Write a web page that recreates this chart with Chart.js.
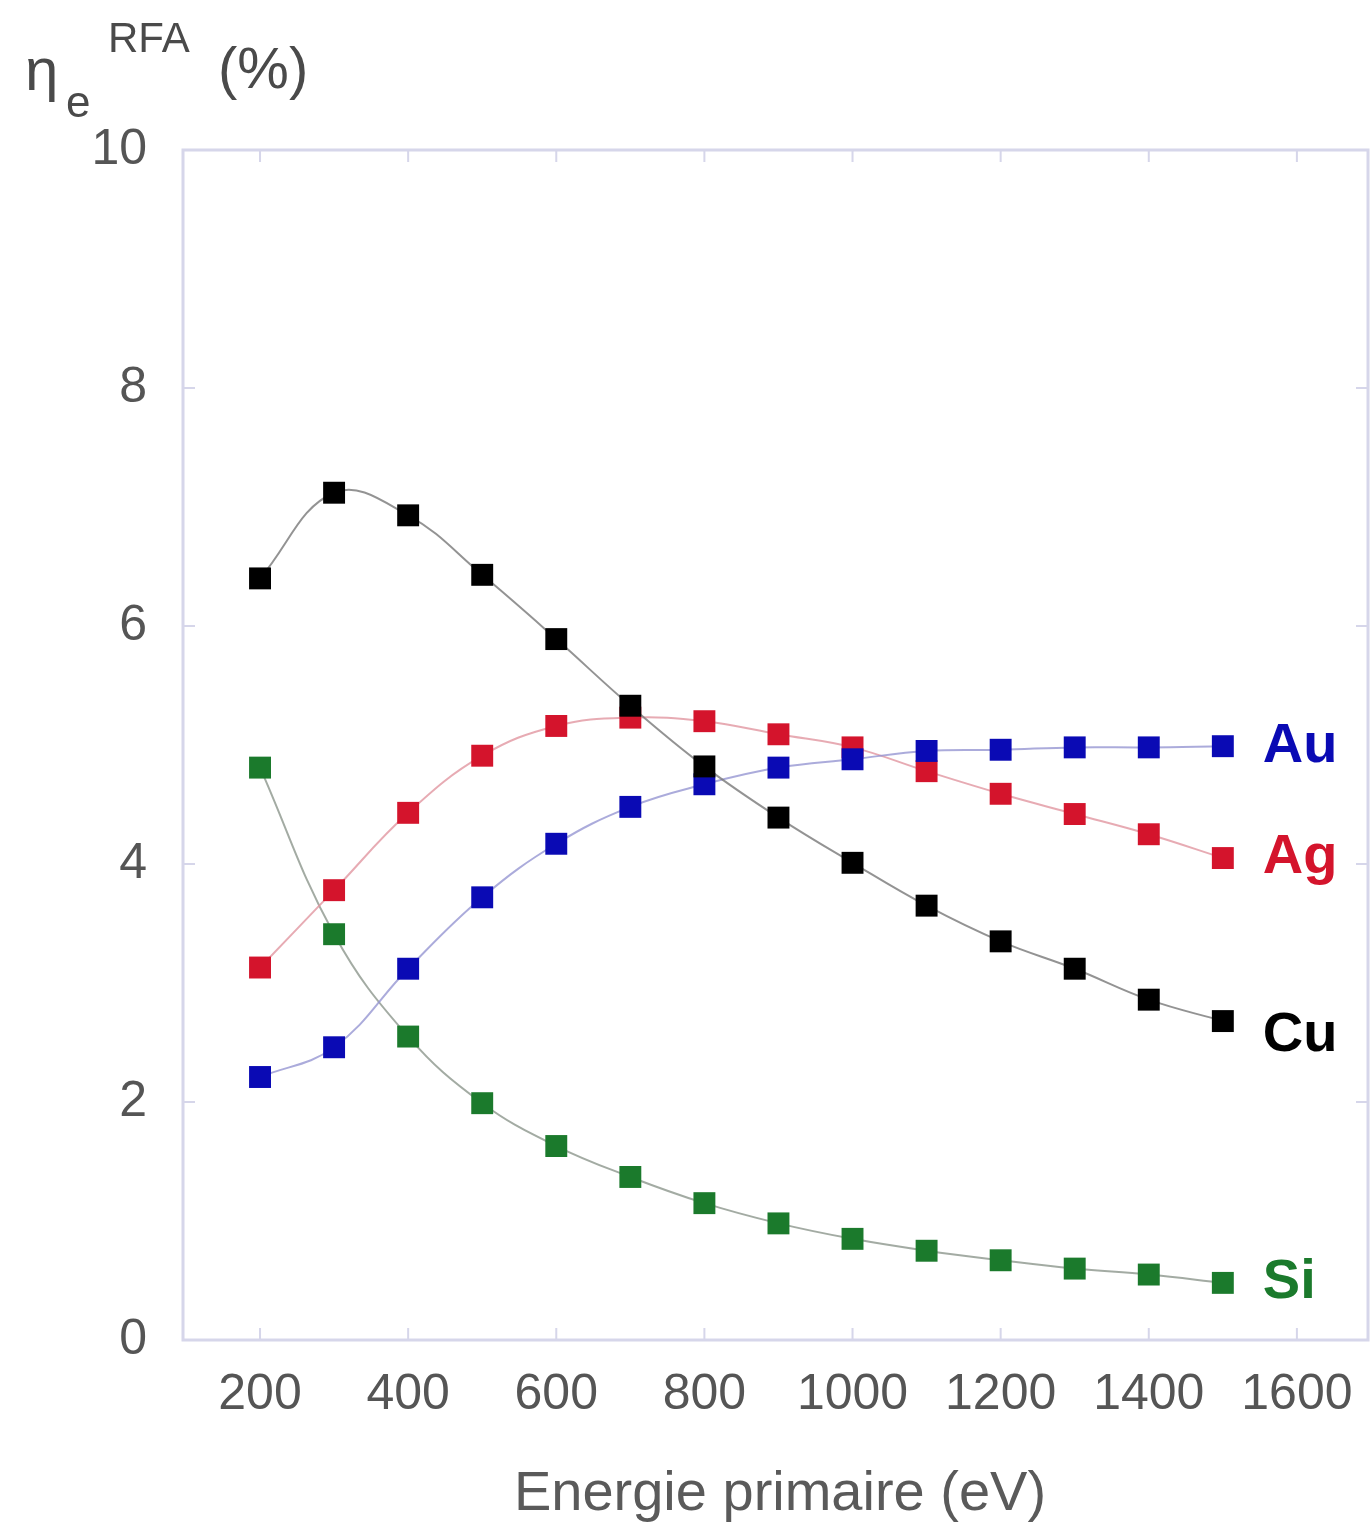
<!DOCTYPE html>
<html lang="fr">
<head>
    <meta charset="UTF-8">
    <title>Rendement RFA</title>
    <script src="https://cdn.jsdelivr.net/npm/chart.js@4.4.0/dist/chart.umd.min.js"></script>
    <style>
        body {
            margin: 0;
            background: #ffffff;
            overflow: hidden;
        }
        .chart-box {
            position: relative;
            width: 1371px;
            height: 1526px;
        }
    </style>
</head>
<body>
    <div class="chart-box">
        <canvas id="rfaChart"></canvas>
    </div>

    <script>
        // energie primaire (eV)
        const energies = [200, 300, 400, 500, 600, 700, 800, 900, 1000, 1100, 1200, 1300, 1400, 1500];

        // eta_e RFA (%)
        const cuValues = [6.40, 7.12, 6.93, 6.43, 5.89, 5.33, 4.82, 4.39, 4.01, 3.65, 3.35, 3.12, 2.86, 2.68];
        const agValues = [3.13, 3.78, 4.43, 4.91, 5.16, 5.23, 5.20, 5.09, 4.98, 4.78, 4.59, 4.42, 4.25, 4.05];
        const auValues = [2.21, 2.46, 3.12, 3.72, 4.17, 4.48, 4.67, 4.81, 4.88, 4.95, 4.96, 4.98, 4.98, 4.99];
        const siValues = [4.81, 3.41, 2.55, 1.99, 1.63, 1.37, 1.15, 0.98, 0.85, 0.75, 0.67, 0.60, 0.55, 0.48];

        const xTickValues = [200, 400, 600, 800, 1000, 1200, 1400, 1600];
        const yTickValues = [0, 2, 4, 6, 8, 10];

        const fontFamily = "'Liberation Sans', Arial, sans-serif";

        function toPoints(values) {
            return energies.map((e, i) => ({ x: e, y: values[i] }));
        }

        function series(label, values, color, lineColor) {
            return {
                label: label,
                data: toPoints(values),
                showLine: true,
                borderColor: lineColor,
                borderWidth: 2,
                tension: 0.4,
                pointStyle: 'rect',
                pointRadius: 15.5,
                pointBackgroundColor: color,
                pointBorderColor: color,
                pointBorderWidth: 0,
                labelColor: color
            };
        }

        // cadre, graduations, titres et noms des courbes
        const decorPlugin = {
            id: 'decor',
            beforeDatasetsDraw(chart) {
                const ctx = chart.ctx;
                const area = chart.chartArea;
                const xs = chart.scales.x;
                const ys = chart.scales.y;
                ctx.save();
                ctx.strokeStyle = '#d6d6ea';
                ctx.lineWidth = 3;
                ctx.strokeRect(area.left, area.top, area.right - area.left, area.bottom - area.top);
                ctx.lineWidth = 2;
                ctx.beginPath();
                xTickValues.forEach(v => {
                    const px = xs.getPixelForValue(v);
                    ctx.moveTo(px, area.bottom);
                    ctx.lineTo(px, area.bottom - 12);
                    ctx.moveTo(px, area.top);
                    ctx.lineTo(px, area.top + 12);
                });
                yTickValues.forEach(v => {
                    const py = ys.getPixelForValue(v);
                    ctx.moveTo(area.left, py);
                    ctx.lineTo(area.left + 12, py);
                    ctx.moveTo(area.right, py);
                    ctx.lineTo(area.right - 12, py);
                });
                ctx.stroke();
                ctx.restore();
            },
            afterDatasetsDraw(chart) {
                const ctx = chart.ctx;
                ctx.save();

                // noms des courbes a droite du dernier point
                ctx.font = 'bold 56px ' + fontFamily;
                ctx.textBaseline = 'middle';
                ctx.textAlign = 'left';
                chart.data.datasets.forEach((ds, i) => {
                    const pts = chart.getDatasetMeta(i).data;
                    const last = pts[pts.length - 1];
                    const dy = ds.label === 'Cu' ? 14 : 0;
                    ctx.fillStyle = ds.labelColor;
                    ctx.fillText(ds.label, last.x + 40, last.y + dy);
                });

                // titre axe y
                ctx.fillStyle = '#4a4a4a';
                ctx.textBaseline = 'alphabetic';
                ctx.font = '60px ' + fontFamily;
                ctx.fillText('\u03B7', 25, 90);
                ctx.font = '44px ' + fontFamily;
                ctx.fillText('e', 66, 117);
                ctx.font = '42px ' + fontFamily;
                ctx.fillText('RFA', 108, 52);
                ctx.font = '58px ' + fontFamily;
                ctx.fillText('(%)', 218, 88);

                // titre axe x
                ctx.fillStyle = '#5a5a5a';
                ctx.font = '56px ' + fontFamily;
                ctx.textAlign = 'center';
                ctx.fillText('Energie primaire (eV)', 780, 1510);
                ctx.restore();
            }
        };

        new Chart(document.getElementById('rfaChart'), {
            type: 'scatter',
            data: {
                datasets: [
                    series('Cu', cuValues, '#000000', 'rgba(120,120,120,0.8)'),
                    series('Au', auValues, '#0a0ab4', 'rgba(150,150,210,0.8)'),
                    series('Ag', agValues, '#d4142c', 'rgba(225,150,160,0.8)'),
                    series('Si', siValues, '#1b7a2c', 'rgba(140,150,140,0.8)')
                ]
            },
            options: {
                responsive: true,
                maintainAspectRatio: false,
                animation: false,
                layout: {
                    autoPadding: false,
                    padding: { top: 150, right: 3, left: 0, bottom: 0 }
                },
                plugins: {
                    legend: { display: false },
                    tooltip: { enabled: false }
                },
                scales: {
                    x: {
                        type: 'linear',
                        min: 96,
                        max: 1696,
                        afterBuildTicks: scale => {
                            scale.ticks = xTickValues.map(v => ({ value: v }));
                        },
                        afterFit: scale => {
                            scale.height = 186;
                            scale.paddingLeft = 0;
                            scale.paddingRight = 0;
                        },
                        grid: { display: false },
                        border: { display: false },
                        ticks: {
                            color: '#555555',
                            padding: 17,
                            maxRotation: 0,
                            font: { family: fontFamily, size: 50 },
                            callback: v => String(v)
                        }
                    },
                    y: {
                        type: 'linear',
                        min: 0,
                        max: 10,
                        afterBuildTicks: scale => {
                            scale.ticks = yTickValues.map(v => ({ value: v }));
                        },
                        afterFit: scale => {
                            scale.width = 183;
                        },
                        grid: { display: false },
                        border: { display: false },
                        ticks: {
                            color: '#555555',
                            padding: 28,
                            font: { family: fontFamily, size: 50 },
                            callback: v => String(v)
                        }
                    }
                }
            },
            plugins: [decorPlugin]
        });
    </script>
</body>
</html>
